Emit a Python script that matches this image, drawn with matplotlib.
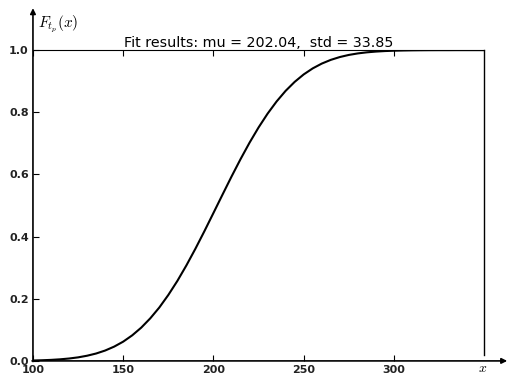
import matplotlib.pyplot as plt

plt.rcParams['mathtext.fontset'] = 'cm'

# values (every 5 units)
x_vals = [100, 105, 110, 115, 120, 125, 130, 135, 140, 145, 150, 155, 160,
          165, 170, 175, 180, 185, 190, 195, 200, 205, 210, 215, 220, 225,
          230, 235, 240, 245, 250, 255, 260, 265, 270, 275, 280, 285, 290,
          295, 300, 305, 310, 315, 320, 325, 330, 335, 340, 345, 350]
cdf_vals = [0.0013, 0.0021, 0.0033, 0.0051, 0.0077, 0.0114, 0.0167, 0.0238,
            0.0334, 0.0460, 0.0620, 0.0823, 0.1071, 0.1370, 0.1718, 0.2122,
            0.2573, 0.3072, 0.3609, 0.4175, 0.4760, 0.5348, 0.5930, 0.6491,
            0.7022, 0.7512, 0.7956, 0.8349, 0.8690, 0.8978, 0.9218, 0.9412,
            0.9566, 0.9686, 0.9777, 0.9845, 0.9894, 0.9929, 0.9953, 0.9970,
            0.9981, 0.9988, 0.9993, 0.9996, 0.9998, 0.9999, 0.9999, 1.0,
            1.0, 1.0, 1.0]

xticks = [100, 150, 200, 250, 300]
yticks = [0.0, 0.2, 0.4, 0.6, 0.8, 1.0]
title = "Fit results: mu = 202.04,  std = 33.85"

fig = plt.figure(figsize=(5.07, 3.74), dpi=100)
ax = fig.add_axes([0.065, 0.035, 0.89, 0.831])

ax.plot(x_vals, cdf_vals, c='k', lw=1.5)
ax.set_xlim(100, 350)
ax.set_ylim(0, 1)
ax.set_xticks(xticks)
ax.set_yticks(yticks)
ax.set_yticklabels(["%.1f" % v for v in yticks])
ax.tick_params(direction='in', length=4, top=True, right=False,
               labelsize=8, pad=3, labelcolor='#222222')
for lab in ax.get_xticklabels() + ax.get_yticklabels():
    lab.set_fontweight('bold')

ax.spines['left'].set_visible(False)
ax.spines['bottom'].set_visible(False)
ax.spines['right'].set_visible(False)
ax.axvline(350, ymin=0.02, ymax=1, c='k', lw=1, clip_on=False)

# axis arrows
ax.annotate('', xy=(0, 1.135), xytext=(0, -0.002), xycoords='axes fraction',
            arrowprops=dict(arrowstyle='-|>', color='k', lw=1.2,
                            mutation_scale=8, shrinkA=0, shrinkB=0))
ax.annotate('', xy=(1.051, 0), xytext=(-0.002, 0), xycoords='axes fraction',
            arrowprops=dict(arrowstyle='-|>', color='k', lw=1.2,
                            mutation_scale=8, shrinkA=0, shrinkB=0))

ax.set_title(title, fontsize=10.3, pad=2)
ax.text(0.012, 1.085, r'$F_{t_p}(x)$', transform=ax.transAxes,
        fontsize=11, ha='left', va='center')
ax.text(0.996, -0.022, r'$x$', transform=ax.transAxes, fontsize=10,
        ha='center', va='center')

fig.savefig('out.png', dpi=100)
